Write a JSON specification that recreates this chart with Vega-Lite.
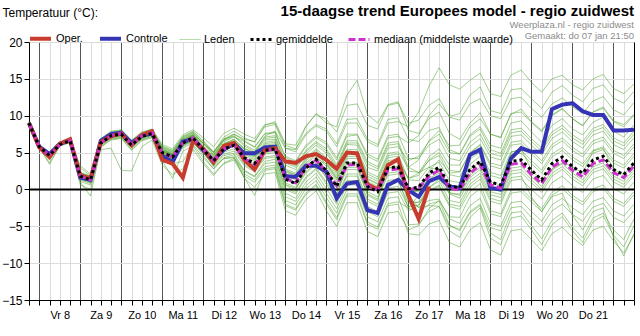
{
"$schema":"https://vega.github.io/schema/vega-lite/v6.json",
"width":605,"height":258,
"autosize":{"type":"none"},
"padding":{"left":29,"top":42,"right":6,"bottom":36},
"background":"white",
"config":{"font":"Liberation Sans","view":{"stroke":null}},
"title":{"text":"15-daagse trend Europees model - regio zuidwest","subtitle":["Weerplaza.nl - regio zuidwest","Gemaakt: do 07 jan 21:50"],"anchor":"end","frame":"group","fontSize":15,"fontWeight":"bold","color":"#000","subtitleFontSize":9.5,"subtitleColor":"#8c8c8c","subtitlePadding":1,"subtitleLineHeight":11,"offset":-34},
"data":{"values":[
{"t":"2021-01-07T18:00Z","OP":9.0,"CT":9.0,"GM":9.0,"MD":9.0,"a":9.1,"b":9.0,"c":9.0,"d":8.9,"e":9.0,"f":9.1,"g":9.0,"h":9.1,"i":8.9,"j":9.0,"k":9.0,"l":9.0,"m":9.0,"n":9.0,"o":9.1,"p":8.9,"q":9.0,"r":9.1,"s":9.0,"t2":9.0,"u":9.0,"v":9.0,"w":9.0,"x":9.1,"y":9.0,"z":9.0},
{"t":"2021-01-08T00:00Z","OP":5.7,"CT":5.8,"GM":5.8,"MD":5.8,"a":5.9,"b":5.8,"c":5.8,"d":5.7,"e":5.8,"f":5.9,"g":5.8,"h":5.9,"i":5.7,"j":5.8,"k":5.8,"l":5.8,"m":5.8,"n":5.8,"o":5.9,"p":5.7,"q":5.8,"r":5.9,"s":5.8,"t2":5.8,"u":5.8,"v":5.8,"w":5.8,"x":5.9,"y":5.8,"z":5.8},
{"t":"2021-01-08T06:00Z","OP":4.4,"CT":4.8,"GM":4.6,"MD":4.6,"a":4.7,"b":4.5,"c":4.6,"d":4.2,"e":4.0,"f":4.7,"g":4.5,"h":4.8,"i":3.6,"j":4.6,"k":4.6,"l":4.3,"m":4.5,"n":4.6,"o":4.7,"p":3.4,"q":4.6,"r":4.7,"s":4.6,"t2":4.6,"u":4.5,"v":4.6,"w":4.5,"x":4.7,"y":4.6,"z":4.7},
{"t":"2021-01-08T12:00Z","OP":6.2,"CT":6.2,"GM":6.1,"MD":6.1,"a":6.2,"b":6.0,"c":6.1,"d":6.0,"e":6.1,"f":6.2,"g":6.0,"h":6.3,"i":5.9,"j":6.2,"k":6.1,"l":6.2,"m":6.0,"n":6.1,"o":6.2,"p":5.9,"q":6.1,"r":6.2,"s":6.1,"t2":6.1,"u":6.0,"v":6.2,"w":6.0,"x":6.2,"y":6.1,"z":6.2},
{"t":"2021-01-08T18:00Z","OP":6.8,"CT":6.7,"GM":6.6,"MD":6.6,"a":6.7,"b":6.5,"c":6.7,"d":6.5,"e":6.6,"f":6.7,"g":6.5,"h":6.8,"i":6.3,"j":6.7,"k":6.6,"l":6.7,"m":6.5,"n":6.6,"o":6.8,"p":6.4,"q":6.6,"r":6.7,"s":6.6,"t2":6.6,"u":6.5,"v":6.7,"w":6.5,"x":6.8,"y":6.6,"z":6.7},
{"t":"2021-01-09T00:00Z","OP":1.9,"CT":1.6,"GM":1.8,"MD":1.8,"a":2.2,"b":1.6,"c":2.0,"d":1.1,"e":1.8,"f":2.3,"g":1.5,"h":3.2,"i":0.6,"j":2.0,"k":1.6,"l":2.1,"m":1.3,"n":1.9,"o":2.9,"p":1.0,"q":1.8,"r":2.2,"s":1.6,"t2":2.0,"u":1.4,"v":2.0,"w":1.6,"x":2.3,"y":1.7,"z":2.1},
{"t":"2021-01-09T06:00Z","OP":1.5,"CT":1.3,"GM":1.3,"MD":1.3,"a":1.7,"b":1.0,"c":1.5,"d":0.6,"e":1.3,"f":1.8,"g":1.0,"h":2.1,"i":0.0,"j":1.5,"k":1.1,"l":1.6,"m":0.8,"n":1.4,"o":1.9,"p":-0.9,"q":1.3,"r":1.7,"s":1.1,"t2":1.5,"u":0.9,"v":1.5,"w":1.1,"x":1.8,"y":1.2,"z":1.6},
{"t":"2021-01-09T12:00Z","OP":6.4,"CT":6.6,"GM":6.3,"MD":6.3,"a":6.6,"b":6.1,"c":6.4,"d":5.8,"e":6.3,"f":6.7,"g":6.1,"h":6.9,"i":5.4,"j":6.5,"k":6.2,"l":6.5,"m":5.9,"n":6.4,"o":6.8,"p":5.7,"q":6.3,"r":6.6,"s":6.2,"t2":6.4,"u":6.0,"v":6.5,"w":6.1,"x":6.7,"y":6.2,"z":6.5},
{"t":"2021-01-09T18:00Z","OP":7.2,"CT":7.5,"GM":7.3,"MD":7.3,"a":7.6,"b":7.1,"c":7.4,"d":6.8,"e":7.3,"f":7.7,"g":7.1,"h":7.9,"i":5.6,"j":7.5,"k":7.2,"l":7.5,"m":6.9,"n":7.4,"o":7.8,"p":6.7,"q":7.3,"r":7.6,"s":7.2,"t2":7.4,"u":7.0,"v":7.5,"w":7.1,"x":7.7,"y":7.2,"z":7.5},
{"t":"2021-01-10T00:00Z","OP":7.6,"CT":7.7,"GM":7.5,"MD":7.6,"a":7.8,"b":7.3,"c":7.6,"d":7.0,"e":7.5,"f":7.9,"g":7.3,"h":8.1,"i":2.6,"j":7.7,"k":7.4,"l":7.7,"m":7.1,"n":7.6,"o":8.0,"p":6.9,"q":7.5,"r":7.8,"s":7.4,"t2":7.6,"u":7.2,"v":7.7,"w":7.3,"x":7.9,"y":7.4,"z":7.7},
{"t":"2021-01-10T06:00Z","OP":6.0,"CT":6.3,"GM":6.0,"MD":6.1,"a":6.4,"b":5.8,"c":6.2,"d":5.4,"e":6.0,"f":6.4,"g":5.7,"h":6.7,"i":2.5,"j":6.2,"k":5.9,"l":6.3,"m":5.6,"n":6.1,"o":6.6,"p":5.3,"q":6.0,"r":6.3,"s":5.9,"t2":6.1,"u":5.7,"v":6.2,"w":5.8,"x":6.5,"y":5.9,"z":6.3},
{"t":"2021-01-10T12:00Z","OP":7.4,"CT":7.3,"GM":7.2,"MD":7.3,"a":7.5,"b":7.0,"c":7.3,"d":6.7,"e":7.2,"f":7.6,"g":7.0,"h":7.8,"i":5.8,"j":7.4,"k":7.1,"l":7.4,"m":6.8,"n":7.3,"o":7.7,"p":6.6,"q":7.2,"r":7.5,"s":7.1,"t2":7.3,"u":6.9,"v":7.4,"w":7.0,"x":7.6,"y":7.1,"z":7.4},
{"t":"2021-01-10T18:00Z","OP":7.9,"CT":7.6,"GM":7.6,"MD":7.7,"a":7.9,"b":7.4,"c":7.7,"d":7.1,"e":7.6,"f":8.0,"g":7.4,"h":8.2,"i":6.7,"j":7.8,"k":7.5,"l":7.8,"m":7.2,"n":7.7,"o":8.1,"p":7.0,"q":7.6,"r":7.9,"s":7.5,"t2":7.7,"u":7.3,"v":7.8,"w":7.4,"x":8.0,"y":7.5,"z":7.8},
{"t":"2021-01-11T00:00Z","OP":4.0,"CT":4.5,"GM":5.0,"MD":5.0,"a":5.6,"b":4.7,"c":5.2,"d":4.1,"e":5.0,"f":5.7,"g":4.6,"h":6.1,"i":3.3,"j":5.3,"k":4.8,"l":5.4,"m":4.3,"n":5.1,"o":5.9,"p":3.9,"q":5.0,"r":5.5,"s":4.8,"t2":5.2,"u":4.5,"v":5.3,"w":4.7,"x":5.8,"y":4.9,"z":5.4},
{"t":"2021-01-11T06:00Z","OP":3.5,"CT":3.7,"GM":4.4,"MD":4.4,"a":5.0,"b":4.1,"c":4.7,"d":3.5,"e":4.4,"f":5.1,"g":4.0,"h":5.5,"i":2.0,"j":4.7,"k":4.2,"l":4.8,"m":3.7,"n":4.5,"o":5.3,"p":1.5,"q":4.4,"r":4.9,"s":4.2,"t2":4.6,"u":3.9,"v":4.7,"w":4.1,"x":5.2,"y":4.3,"z":4.8},
{"t":"2021-01-11T12:00Z","OP":1.6,"CT":6.5,"GM":6.3,"MD":6.3,"a":6.9,"b":6.0,"c":6.5,"d":3.8,"e":6.3,"f":7.0,"g":5.9,"h":7.4,"i":2.8,"j":6.6,"k":6.1,"l":6.7,"m":5.6,"n":6.4,"o":7.2,"p":5.2,"q":6.3,"r":6.8,"s":6.1,"t2":6.5,"u":5.8,"v":6.6,"w":6.0,"x":7.1,"y":6.2,"z":6.7},
{"t":"2021-01-11T18:00Z","OP":6.6,"CT":6.8,"GM":7.0,"MD":7.0,"a":7.6,"b":6.7,"c":7.3,"d":6.1,"e":7.0,"f":7.7,"g":6.6,"h":8.1,"i":5.4,"j":7.3,"k":6.8,"l":7.4,"m":6.3,"n":7.1,"o":7.9,"p":5.9,"q":7.0,"r":7.5,"s":6.8,"t2":7.2,"u":6.5,"v":7.3,"w":6.7,"x":7.8,"y":6.9,"z":7.4},
{"t":"2021-01-12T00:00Z","OP":5.5,"CT":5.3,"GM":5.4,"MD":5.5,"a":6.3,"b":5.3,"c":5.9,"d":4.3,"e":5.2,"f":6.2,"g":5.0,"h":7.0,"i":3.5,"j":5.0,"k":5.5,"l":5.6,"m":4.9,"n":5.0,"o":6.6,"p":3.8,"q":5.7,"r":5.8,"s":5.6,"t2":5.6,"u":4.6,"v":6.2,"w":5.3,"x":6.5,"y":5.0,"z":6.3},
{"t":"2021-01-12T06:00Z","OP":3.7,"CT":3.9,"GM":3.9,"MD":3.9,"a":4.8,"b":4.0,"c":4.5,"d":2.8,"e":3.6,"f":4.7,"g":3.6,"h":5.8,"i":1.9,"j":3.1,"k":4.2,"l":4.0,"m":3.5,"n":3.2,"o":5.1,"p":2.1,"q":4.4,"r":4.2,"s":4.6,"t2":4.1,"u":2.8,"v":5.1,"w":4.1,"x":5.0,"y":3.3,"z":5.0},
{"t":"2021-01-12T12:00Z","OP":5.9,"CT":5.4,"GM":5.5,"MD":5.5,"a":6.5,"b":5.9,"c":6.2,"d":4.3,"e":5.1,"f":6.2,"g":5.3,"h":7.6,"i":3.6,"j":4.2,"k":5.9,"l":5.5,"m":5.3,"n":4.6,"o":6.8,"p":3.5,"q":6.2,"r":5.7,"s":6.7,"t2":5.6,"u":4.2,"v":7.1,"w":5.8,"x":6.7,"y":4.8,"z":6.9},
{"t":"2021-01-12T18:00Z","OP":6.3,"CT":6.2,"GM":6.0,"MD":6.0,"a":7.1,"b":6.6,"c":6.8,"d":4.7,"e":5.5,"f":6.6,"g":5.9,"h":8.3,"i":4.2,"j":4.3,"k":6.5,"l":5.9,"m":5.9,"n":4.9,"o":7.3,"p":4.0,"q":6.8,"r":6.1,"s":7.5,"t2":6.1,"u":4.4,"v":7.9,"w":6.4,"x":7.2,"y":5.2,"z":7.5},
{"t":"2021-01-13T00:00Z","OP":4.0,"CT":4.9,"GM":4.3,"MD":4.2,"a":6.5,"b":5.5,"c":5.6,"d":2.1,"e":3.4,"f":4.8,"g":4.2,"h":7.5,"i":2.6,"j":1.5,"k":5.2,"l":3.8,"m":4.6,"n":2.5,"o":6.1,"p":1.6,"q":5.4,"r":4.0,"s":6.8,"t2":5.0,"u":1.8,"v":7.0,"w":5.0,"x":5.9,"y":3.2,"z":6.6},
{"t":"2021-01-13T06:00Z","OP":2.7,"CT":4.9,"GM":3.5,"MD":3.4,"a":5.7,"b":5.0,"c":4.9,"d":1.3,"e":2.6,"f":4.0,"g":3.4,"h":6.9,"i":1.8,"j":0.3,"k":4.4,"l":3.0,"m":3.8,"n":1.7,"o":5.3,"p":-0.8,"q":4.6,"r":3.2,"s":6.5,"t2":4.5,"u":1.0,"v":6.4,"w":4.2,"x":5.1,"y":2.4,"z":5.8},
{"t":"2021-01-13T12:00Z","OP":5.3,"CT":5.7,"GM":5.3,"MD":5.2,"a":7.5,"b":7.2,"c":6.7,"d":3.1,"e":4.4,"f":5.8,"g":5.3,"h":8.8,"i":3.8,"j":2.1,"k":6.2,"l":4.8,"m":5.6,"n":3.5,"o":7.1,"p":2.6,"q":6.4,"r":5.0,"s":8.7,"t2":5.3,"u":2.8,"v":8.5,"w":6.0,"x":6.9,"y":4.2,"z":7.6},
{"t":"2021-01-13T18:00Z","OP":5.6,"CT":5.8,"GM":5.5,"MD":5.5,"a":7.7,"b":7.9,"c":6.8,"d":3.3,"e":4.6,"f":6.0,"g":5.5,"h":9.0,"i":4.1,"j":2.3,"k":6.4,"l":5.0,"m":5.8,"n":3.7,"o":7.3,"p":2.8,"q":6.6,"r":5.2,"s":9.2,"t2":5.5,"u":3.0,"v":8.8,"w":6.2,"x":7.1,"y":4.4,"z":7.8},
{"t":"2021-01-14T00:00Z","OP":3.8,"CT":1.8,"GM":1.4,"MD":1.5,"a":4.3,"b":5.6,"c":3.3,"d":-1.5,"e":0.2,"f":2.1,"g":0.6,"h":6.0,"i":-0.5,"j":-2.9,"k":2.6,"l":0.7,"m":1.9,"n":-1.0,"o":3.8,"p":-2.2,"q":2.8,"r":0.9,"s":6.2,"t2":2.5,"u":-2.0,"v":5.6,"w":2.4,"x":3.6,"y":0.0,"z":4.5},
{"t":"2021-01-14T06:00Z","OP":3.6,"CT":1.7,"GM":0.8,"MD":0.9,"a":3.7,"b":5.4,"c":2.7,"d":-2.1,"e":-0.4,"f":1.5,"g":-0.2,"h":5.5,"i":-1.2,"j":-3.5,"k":2.0,"l":0.1,"m":1.3,"n":-1.6,"o":3.2,"p":-2.8,"q":2.2,"r":0.3,"s":6.0,"t2":2.0,"u":-2.6,"v":5.1,"w":1.8,"x":3.0,"y":-0.6,"z":3.9},
{"t":"2021-01-14T12:00Z","OP":4.5,"CT":3.2,"GM":2.9,"MD":3.0,"a":5.8,"b":8.5,"c":4.8,"d":0.1,"e":1.7,"f":3.6,"g":2.9,"h":7.6,"i":1.0,"j":-1.4,"k":4.1,"l":2.2,"m":3.4,"n":0.5,"o":5.3,"p":-0.7,"q":4.3,"r":2.4,"s":8.6,"t2":2.9,"u":-0.5,"v":7.4,"w":3.9,"x":5.1,"y":1.5,"z":6.0},
{"t":"2021-01-14T18:00Z","OP":4.8,"CT":3.2,"GM":4.1,"MD":4.0,"a":7.0,"b":10.3,"c":6.0,"d":1.2,"e":2.9,"f":4.8,"g":4.1,"h":8.8,"i":2.2,"j":-0.2,"k":5.3,"l":3.4,"m":4.6,"n":1.7,"o":6.5,"p":0.5,"q":5.5,"r":3.6,"s":10.2,"t2":4.1,"u":0.7,"v":8.6,"w":5.1,"x":6.3,"y":2.7,"z":7.2},
{"t":"2021-01-15T00:00Z","OP":4.0,"CT":2.4,"GM":2.5,"MD":2.4,"a":6.1,"b":9.0,"c":4.9,"d":-1.1,"e":1.0,"f":3.4,"g":3.5,"h":8.2,"i":0.1,"j":-2.9,"k":4.0,"l":1.6,"m":3.1,"n":-0.5,"o":5.5,"p":-2.0,"q":4.3,"r":1.9,"s":9.5,"t2":1.5,"u":-1.7,"v":7.9,"w":3.7,"x":5.2,"y":0.7,"z":6.4},
{"t":"2021-01-15T06:00Z","OP":2.8,"CT":-1.2,"GM":0.4,"MD":0.5,"a":4.0,"b":8.5,"c":2.9,"d":-3.2,"e":-1.1,"f":1.3,"g":1.5,"h":6.2,"i":-2.0,"j":-5.0,"k":1.9,"l":-0.5,"m":1.0,"n":-2.6,"o":3.4,"p":-4.1,"q":2.2,"r":-0.2,"s":7.8,"t2":-1.0,"u":-3.8,"v":5.8,"w":1.6,"x":3.1,"y":-1.4,"z":4.3},
{"t":"2021-01-15T12:00Z","OP":5.0,"CT":0.8,"GM":3.6,"MD":3.3,"a":7.2,"b":12.8,"c":6.1,"d":0.0,"e":2.1,"f":4.5,"g":3.6,"h":9.5,"i":1.2,"j":-1.8,"k":5.1,"l":2.7,"m":4.2,"n":0.6,"o":6.6,"p":-0.9,"q":5.4,"r":3.0,"s":11.4,"t2":3.6,"u":-0.6,"v":9.0,"w":4.8,"x":6.3,"y":1.8,"z":7.5},
{"t":"2021-01-15T18:00Z","OP":4.9,"CT":1.0,"GM":3.6,"MD":3.4,"a":7.4,"b":14.8,"c":6.0,"d":0.0,"e":2.1,"f":4.5,"g":3.6,"h":9.6,"i":1.2,"j":-1.8,"k":5.1,"l":2.7,"m":4.2,"n":0.6,"o":6.6,"p":-0.9,"q":5.4,"r":3.0,"s":11.6,"t2":3.6,"u":-0.6,"v":9.0,"w":4.8,"x":6.3,"y":1.8,"z":7.5},
{"t":"2021-01-16T00:00Z","OP":0.7,"CT":-2.8,"GM":0.4,"MD":0.5,"a":4.5,"b":10.2,"c":3.0,"d":-3.7,"e":-1.3,"f":1.4,"g":-0.8,"h":6.8,"i":-2.3,"j":-5.7,"k":2.1,"l":-0.6,"m":1.1,"n":-3.0,"o":3.8,"p":-4.7,"q":2.4,"r":-0.3,"s":8.7,"t2":1.5,"u":-4.4,"v":6.5,"w":1.8,"x":3.5,"y":-1.6,"z":4.8},
{"t":"2021-01-16T06:00Z","OP":0.0,"CT":-3.2,"GM":-0.3,"MD":-0.1,"a":3.8,"b":9.0,"c":2.5,"d":-4.4,"e":-2.0,"f":0.7,"g":-1.5,"h":6.1,"i":-3.0,"j":-6.4,"k":1.4,"l":-1.3,"m":0.4,"n":-3.7,"o":3.1,"p":-5.4,"q":1.7,"r":-1.0,"s":8.2,"t2":0.8,"u":-5.1,"v":5.8,"w":1.1,"x":2.8,"y":-2.3,"z":4.1},
{"t":"2021-01-16T12:00Z","OP":3.3,"CT":0.6,"GM":2.9,"MD":2.6,"a":7.0,"b":11.5,"c":5.6,"d":-1.2,"e":1.2,"f":3.9,"g":2.9,"h":9.5,"i":0.2,"j":-3.2,"k":4.6,"l":1.9,"m":3.6,"n":-0.5,"o":6.3,"p":-2.2,"q":4.9,"r":2.2,"s":11.4,"t2":2.9,"u":-1.9,"v":9.0,"w":4.3,"x":6.0,"y":0.9,"z":7.3},
{"t":"2021-01-16T18:00Z","OP":4.1,"CT":1.3,"GM":3.1,"MD":2.8,"a":7.2,"b":11.9,"c":5.8,"d":-1.0,"e":1.4,"f":4.1,"g":3.1,"h":9.7,"i":0.4,"j":-3.0,"k":4.8,"l":2.1,"m":3.8,"n":-0.3,"o":6.5,"p":-2.0,"q":5.1,"r":2.4,"s":11.7,"t2":3.1,"u":-1.7,"v":9.2,"w":4.5,"x":6.2,"y":1.1,"z":7.5},
{"t":"2021-01-17T00:00Z","OP":-0.8,"CT":-0.1,"GM":0.1,"MD":0.0,"a":6.3,"b":8.0,"c":3.9,"d":-4.8,"e":-2.5,"f":1.5,"g":-0.3,"h":6.8,"i":-2.4,"j":-5.5,"k":1.3,"l":-1.6,"m":1.5,"n":-2.9,"o":3.0,"p":-6.0,"q":3.0,"r":-0.5,"s":9.0,"t2":-1.5,"u":-2.5,"v":8.5,"w":-0.8,"x":2.5,"y":-1.9,"z":4.2},
{"t":"2021-01-17T06:00Z","OP":-4.0,"CT":-1.0,"GM":0.3,"MD":0.2,"a":7.3,"b":7.6,"c":4.5,"d":-4.7,"e":-3.2,"f":1.9,"g":-0.3,"h":6.5,"i":-2.1,"j":-4.9,"k":1.2,"l":-1.8,"m":2.2,"n":-2.2,"o":2.3,"p":-6.2,"q":4.0,"r":-0.1,"s":9.4,"t2":-2.4,"u":-0.8,"v":10.5,"w":-2.5,"x":2.3,"y":-1.7,"z":4.2},
{"t":"2021-01-17T12:00Z","OP":0.4,"CT":1.1,"GM":2.2,"MD":1.8,"a":10.0,"b":9.6,"c":6.5,"d":-3.0,"e":-2.0,"f":4.0,"g":1.5,"h":8.0,"i":-0.2,"j":-2.6,"k":3.0,"l":-0.2,"m":4.4,"n":0.2,"o":3.0,"p":-4.7,"q":6.6,"r":1.9,"s":11.4,"t2":-1.5,"u":2.5,"v":14.0,"w":-2.2,"x":3.9,"y":0.3,"z":6.0},
{"t":"2021-01-17T18:00Z","OP":null,"CT":1.7,"GM":3.0,"MD":2.6,"a":11.6,"b":10.5,"c":7.5,"d":-2.3,"e":-1.6,"f":5.0,"g":2.2,"h":8.4,"i":0.6,"j":-1.5,"k":3.7,"l":0.4,"m":5.5,"n":1.4,"o":2.6,"p":-4.2,"q":8.0,"r":2.8,"s":12.3,"t2":-1.3,"u":4.0,"v":16.5,"w":-2.3,"x":4.6,"y":1.1,"z":6.8},
{"t":"2021-01-18T00:00Z","OP":null,"CT":0.4,"GM":0.5,"MD":0.2,"a":9.9,"b":7.6,"c":5.0,"d":-5.0,"e":-4.8,"f":2.6,"g":-0.4,"h":5.4,"i":-2.0,"j":-3.7,"k":1.2,"l":-2.3,"m":3.3,"n":-0.6,"o":-0.6,"p":-7.2,"q":5.9,"r":0.4,"s":9.8,"t2":-4.0,"u":2.2,"v":14.2,"w":-5.6,"x":2.0,"y":-1.5,"z":4.2},
{"t":"2021-01-18T06:00Z","OP":null,"CT":0.2,"GM":0.2,"MD":-0.1,"a":10.3,"b":6.8,"c":4.8,"d":-5.4,"e":-5.6,"f":2.4,"g":-0.8,"h":4.8,"i":-2.3,"j":-3.8,"k":0.9,"l":-2.7,"m":3.3,"n":-0.6,"o":-1.2,"p":-7.8,"q":6.0,"r":0.2,"s":9.4,"t2":-4.6,"u":2.4,"v":13.6,"w":-6.5,"x":1.7,"y":-1.8,"z":3.9},
{"t":"2021-01-18T12:00Z","OP":null,"CT":4.7,"GM":2.7,"MD":2.2,"a":12.8,"b":9.0,"c":7.4,"d":-3.0,"e":-3.2,"f":4.9,"g":1.6,"h":7.2,"i":0.3,"j":-1.0,"k":3.4,"l":-0.3,"m":5.8,"n":1.9,"o":1.2,"p":-5.5,"q":8.5,"r":2.7,"s":11.6,"t2":-2.2,"u":5.0,"v":14.8,"w":-3.8,"x":4.1,"y":0.7,"z":6.4},
{"t":"2021-01-18T18:00Z","OP":null,"CT":5.4,"GM":3.8,"MD":3.3,"a":13.9,"b":10.4,"c":8.5,"d":-2.0,"e":-2.2,"f":6.0,"g":2.7,"h":8.2,"i":1.4,"j":0.1,"k":4.5,"l":0.8,"m":6.9,"n":3.0,"o":2.2,"p":-4.5,"q":9.6,"r":3.8,"s":12.3,"t2":-1.2,"u":6.1,"v":15.8,"w":-2.5,"x":5.1,"y":1.8,"z":7.5},
{"t":"2021-01-19T00:00Z","OP":null,"CT":0.2,"GM":1.0,"MD":0.6,"a":10.7,"b":7.5,"c":6.0,"d":-5.2,"e":-5.9,"f":3.2,"g":-0.3,"h":5.4,"i":-1.6,"j":-3.3,"k":1.9,"l":-2.9,"m":4.4,"n":0.1,"o":-0.7,"p":-8.2,"q":7.5,"r":1.0,"s":10.0,"t2":-4.6,"u":3.6,"v":13.0,"w":-6.6,"x":2.3,"y":-1.2,"z":4.9},
{"t":"2021-01-19T06:00Z","OP":null,"CT":0.0,"GM":0.6,"MD":0.2,"a":10.3,"b":7.0,"c":5.6,"d":-5.6,"e":-6.8,"f":2.8,"g":-0.7,"h":4.9,"i":-2.0,"j":-3.7,"k":1.5,"l":-3.3,"m":4.0,"n":-0.3,"o":-1.1,"p":-8.9,"q":7.1,"r":0.6,"s":9.6,"t2":-5.0,"u":3.2,"v":12.6,"w":-7.5,"x":1.9,"y":-1.6,"z":4.5},
{"t":"2021-01-19T12:00Z","OP":null,"CT":4.2,"GM":3.8,"MD":3.4,"a":13.5,"b":10.2,"c":9.0,"d":-2.5,"e":-3.2,"f":6.0,"g":2.5,"h":8.1,"i":1.2,"j":-0.5,"k":4.7,"l":-0.1,"m":7.2,"n":2.9,"o":2.1,"p":-5.6,"q":10.3,"r":5.0,"s":12.3,"t2":-1.8,"u":6.4,"v":15.5,"w":-3.9,"x":5.1,"y":1.6,"z":7.7},
{"t":"2021-01-19T18:00Z","OP":null,"CT":5.6,"GM":4.0,"MD":3.6,"a":13.7,"b":10.9,"c":9.3,"d":-2.3,"e":-3.0,"f":6.2,"g":2.7,"h":8.3,"i":1.4,"j":-0.3,"k":4.9,"l":0.1,"m":7.4,"n":3.1,"o":2.3,"p":-5.4,"q":10.5,"r":5.5,"s":12.5,"t2":-1.6,"u":6.6,"v":16.2,"w":-3.6,"x":5.3,"y":1.8,"z":7.9},
{"t":"2021-01-20T00:00Z","OP":null,"CT":5.1,"GM":2.6,"MD":2.0,"a":12.3,"b":9.2,"c":7.8,"d":-3.8,"e":-4.9,"f":4.8,"g":1.3,"h":6.9,"i":0.0,"j":-1.7,"k":3.5,"l":-1.3,"m":6.0,"n":1.7,"o":0.9,"p":-6.8,"q":9.1,"r":2.6,"s":11.0,"t2":-3.0,"u":5.2,"v":14.5,"w":-5.5,"x":3.9,"y":-1.0,"z":6.5},
{"t":"2021-01-20T06:00Z","OP":null,"CT":5.1,"GM":1.3,"MD":0.8,"a":11.0,"b":8.0,"c":6.4,"d":-5.0,"e":-6.7,"f":3.5,"g":0.0,"h":5.6,"i":-1.3,"j":-3.0,"k":2.2,"l":-2.6,"m":4.7,"n":0.4,"o":-0.4,"p":-8.3,"q":7.8,"r":1.3,"s":9.8,"t2":-4.3,"u":3.9,"v":13.2,"w":-7.5,"x":2.6,"y":-3.0,"z":5.2},
{"t":"2021-01-20T12:00Z","OP":null,"CT":10.9,"GM":3.5,"MD":3.0,"a":13.2,"b":10.1,"c":8.7,"d":-2.9,"e":-4.2,"f":5.7,"g":2.2,"h":7.8,"i":0.9,"j":-0.8,"k":4.4,"l":-0.4,"m":6.9,"n":2.6,"o":1.8,"p":-6.0,"q":10.0,"r":2.8,"s":11.6,"t2":-2.1,"u":6.1,"v":15.0,"w":-4.8,"x":4.8,"y":-1.0,"z":7.4},
{"t":"2021-01-20T18:00Z","OP":null,"CT":11.5,"GM":4.4,"MD":3.9,"a":14.1,"b":11.0,"c":9.6,"d":-2.0,"e":-3.2,"f":6.6,"g":3.1,"h":8.7,"i":1.8,"j":0.1,"k":5.3,"l":0.5,"m":7.8,"n":3.5,"o":2.7,"p":-5.1,"q":10.9,"r":3.6,"s":12.4,"t2":-1.2,"u":7.0,"v":15.5,"w":-3.7,"x":5.7,"y":-0.5,"z":8.3},
{"t":"2021-01-21T00:00Z","OP":null,"CT":11.7,"GM":3.1,"MD":2.6,"a":12.8,"b":9.6,"c":8.2,"d":-3.4,"e":-5.1,"f":5.3,"g":1.8,"h":7.4,"i":0.5,"j":-1.2,"k":4.0,"l":-0.8,"m":6.5,"n":2.2,"o":1.4,"p":-6.5,"q":9.6,"r":3.1,"s":11.2,"t2":-2.5,"u":5.7,"v":14.2,"w":-5.6,"x":4.4,"y":-3.5,"z":7.0},
{"t":"2021-01-21T06:00Z","OP":null,"CT":10.6,"GM":2.2,"MD":1.7,"a":11.9,"b":8.6,"c":7.4,"d":-4.3,"e":-6.6,"f":4.4,"g":0.9,"h":6.5,"i":-0.4,"j":-2.1,"k":3.1,"l":-1.7,"m":5.6,"n":1.3,"o":0.5,"p":-7.6,"q":8.7,"r":2.2,"s":10.3,"t2":-3.4,"u":4.8,"v":13.5,"w":-7.2,"x":3.5,"y":-5.5,"z":6.1},
{"t":"2021-01-21T12:00Z","OP":null,"CT":10.1,"GM":4.0,"MD":3.5,"a":13.7,"b":10.5,"c":9.1,"d":-2.4,"e":-3.9,"f":6.2,"g":2.7,"h":8.3,"i":1.4,"j":-0.3,"k":4.9,"l":0.1,"m":7.4,"n":3.1,"o":2.3,"p":-5.5,"q":10.5,"r":5.2,"s":12.0,"t2":-1.6,"u":6.6,"v":15.0,"w":-4.4,"x":5.3,"y":-3.0,"z":7.9},
{"t":"2021-01-21T18:00Z","OP":null,"CT":10.1,"GM":4.5,"MD":4.0,"a":14.2,"b":11.2,"c":9.8,"d":-1.9,"e":-3.2,"f":6.7,"g":3.2,"h":8.8,"i":1.9,"j":0.2,"k":5.4,"l":0.6,"m":7.9,"n":3.6,"o":2.8,"p":-5.0,"q":11.0,"r":5.6,"s":12.6,"t2":-1.1,"u":7.1,"v":15.6,"w":-3.6,"x":5.8,"y":-2.5,"z":8.4},
{"t":"2021-01-22T00:00Z","OP":null,"CT":8.0,"GM":2.7,"MD":2.3,"a":12.4,"b":9.3,"c":7.9,"d":-3.8,"e":-5.5,"f":4.9,"g":1.4,"h":7.0,"i":0.1,"j":-1.6,"k":3.6,"l":-1.2,"m":6.1,"n":1.8,"o":1.0,"p":-7.0,"q":9.2,"r":2.7,"s":10.8,"t2":-2.9,"u":5.3,"v":13.7,"w":-6.2,"x":4.0,"y":-6.5,"z":6.6},
{"t":"2021-01-22T06:00Z","OP":null,"CT":8.0,"GM":2.0,"MD":1.6,"a":11.7,"b":8.8,"c":7.1,"d":-4.5,"e":-6.8,"f":4.2,"g":0.7,"h":6.3,"i":-0.6,"j":-2.3,"k":2.9,"l":-1.9,"m":5.4,"n":1.1,"o":0.3,"p":-8.6,"q":8.5,"r":2.0,"s":10.1,"t2":-3.6,"u":4.6,"v":13.0,"w":-7.8,"x":3.3,"y":-9.0,"z":5.9},
{"t":"2021-01-22T12:00Z","OP":null,"CT":8.1,"GM":3.6,"MD":3.2,"a":13.3,"b":10.2,"c":8.8,"d":-2.9,"e":-4.0,"f":5.8,"g":2.3,"h":7.9,"i":1.0,"j":-0.7,"k":4.5,"l":-0.3,"m":7.0,"n":2.7,"o":1.9,"p":-6.2,"q":10.1,"r":3.6,"s":11.8,"t2":-2.0,"u":6.2,"v":14.3,"w":-4.9,"x":4.9,"y":-6.0,"z":7.5}
]},
"resolve":{"axis":{"x":"independent","y":"independent"}},
"layer":[
{"transform":[{"fold":["a","b","c","d","e","f","g","h","i","j","k","l","m","n","o","p","q","r","s","t2","u","v","w","x","y","z"],"as":["mem","mv"]}],
"mark":{"type":"line","stroke":"#45a024","strokeWidth":1,"opacity":0.5},
"encoding":{
"x":{"field":"t","type":"temporal","scale":{"type":"utc","nice":false},"axis":{"values":[1610042400000,1610064000000,1610085600000,1610107200000,1610128800000,1610150400000,1610172000000,1610193600000,1610215200000,1610236800000,1610258400000,1610280000000,1610301600000,1610323200000,1610344800000,1610366400000,1610388000000,1610409600000,1610431200000,1610452800000,1610474400000,1610496000000,1610517600000,1610539200000,1610560800000,1610582400000,1610604000000,1610625600000,1610647200000,1610668800000,1610690400000,1610712000000,1610733600000,1610755200000,1610776800000,1610798400000,1610820000000,1610841600000,1610863200000,1610884800000,1610906400000,1610928000000,1610949600000,1610971200000,1610992800000,1611014400000,1611036000000,1611057600000,1611079200000,1611100800000,1611122400000,1611144000000,1611165600000,1611187200000,1611208800000,1611230400000,1611252000000,1611273600000,1611295200000,1611316800000],"grid":true,"gridColor":"#dcdcdc","ticks":true,"tickSize":5,"tickColor":"#000","domain":true,"domainColor":"#000","labelExpr":"(utchours(datum.value) == 12 && datum.value < 1611300000000) ? ['Zo','Ma','Di','Wo','Do','Vr','Za'][utcday(datum.value)] + ' ' + utcdate(datum.value) : ''","labelOverlap":false,"labelBound":false,"labelFlush":false,"labelFontSize":11,"labelColor":"#000","labelPadding":4,"title":null}},
"y":{"field":"mv","type":"quantitative","scale":{"domain":[-15,20],"nice":false,"zero":false},"axis":{"values":[-15,-10,-5,0,5,10,15,20],"grid":true,"gridColor":"#dcdcdc","tickSize":5,"tickColor":"#000","domainColor":"#000","labelFontSize":12,"labelColor":"#000","labelPadding":2,"title":"Temperatuur (°C):","titleAngle":0,"titleAlign":"left","titleBaseline":"alphabetic","titleX":-27,"titleY":-26,"titleFontWeight":"normal","titleFontSize":12,"titleColor":"#000"}},
"detail":{"field":"mem","type":"nominal"}
}},
{"data":{"values":[{"nul":0}]},"mark":{"type":"rule","color":"#000","strokeWidth":2},
"encoding":{"y":{"field":"nul","type":"quantitative","axis":{"orient":"right","labels":false,"ticks":false,"grid":false,"domain":true,"domainColor":"#000","title":null}}}},
{"transform":[{"fold":["CT","OP","MD","GM"],"as":["key","val"]}],
"mark":{"type":"line"},
"encoding":{
"x":{"field":"t","type":"temporal","axis":{"values":[1610064000000,1610150400000,1610236800000,1610323200000,1610409600000,1610496000000,1610582400000,1610668800000,1610755200000,1610841600000,1610928000000,1611014400000,1611100800000,1611187200000,1611273600000],"grid":true,"gridColor":"#555555","labels":false,"ticks":false,"domain":false,"title":null}},
"y":{"field":"val","type":"quantitative","axis":null},
"color":{"field":"key","type":"nominal","scale":{"domain":["OP","CT","L","GM","MD"],"range":["#c83c2e","#3434b4","#45a024","#000000","#cc33cc"]},"legend":{"title":null,"orient":"none","legendX":-1,"legendY":-16,"direction":"horizontal","symbolType":"stroke","symbolSize":440,"labelFontSize":11,"labelColor":"#000","columnPadding":9,"labelOffset":3,"padding":0,"labelExpr":"{'OP':'Oper.','CT':'Controle','L':'Leden','GM':'gemiddelde','MD':'mediaan (middelste waarde)'}[datum.label]"}},
"strokeDash":{"field":"key","type":"nominal","scale":{"domain":["OP","CT","L","GM","MD"],"range":[[1,0],[1,0],[1,0],[3,3],[7,3]]}},
"strokeWidth":{"field":"key","type":"nominal","scale":{"type":"ordinal","domain":["OP","CT","L","GM","MD"],"range":[4,4,1,3,3]}},
"opacity":{"field":"key","type":"nominal","scale":{"type":"ordinal","domain":["OP","CT","L","GM","MD"],"range":[1,1,0.5,1,1]}}
}}
]
}
